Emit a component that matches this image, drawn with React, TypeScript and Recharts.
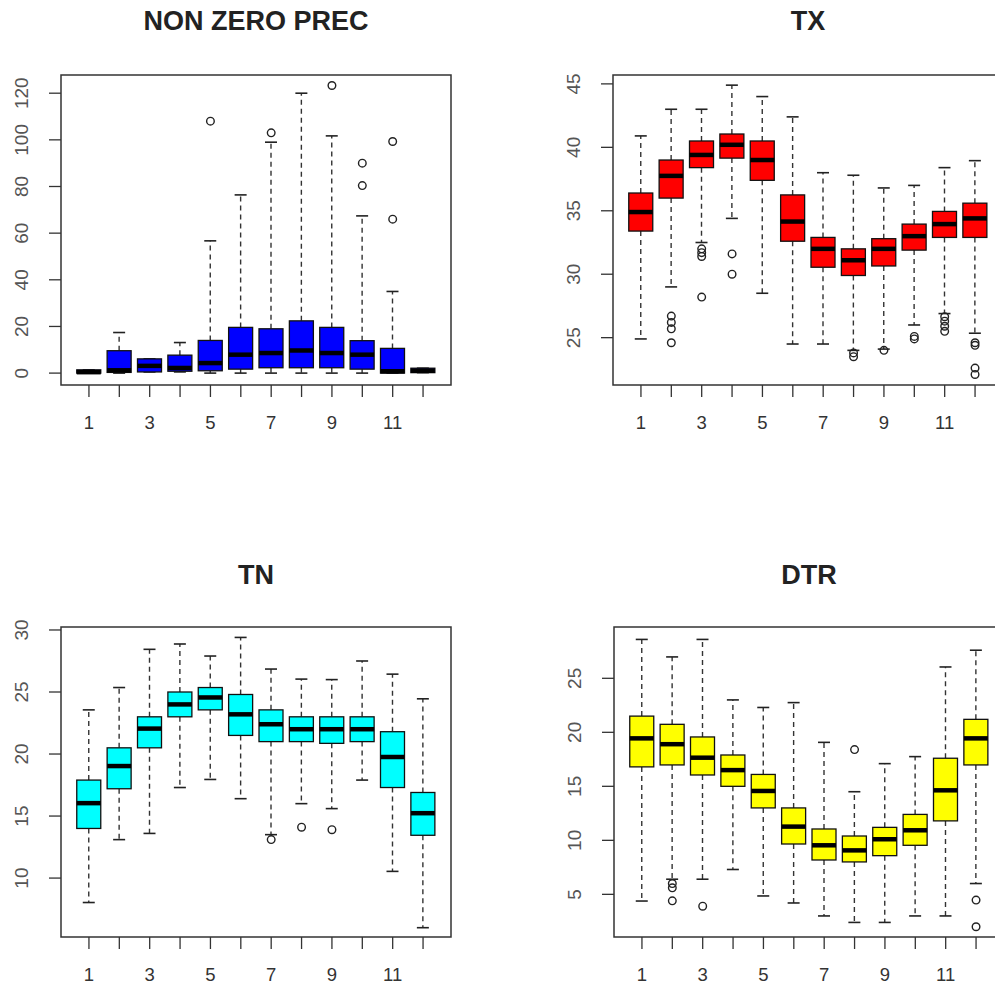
import { Bar, ComposedChart, ReferenceArea, Scatter, XAxis, YAxis } from "recharts";

const months = [1, 2, 3, 4, 5, 6, 7, 8, 9, 10, 11, 12];

// NON ZERO PREC
const precLow = [0, 0, 0.5, 0.5, 0, 0, 0, 0, 0, 0, 0, 0.2];
const precQ1 = [0, 0.3, 0.5, 0.8, 1, 1.7, 2.3, 2.3, 2.3, 1.7, 0, 0.2];
const precMedian = [0.4, 1.2, 3.1, 2.2, 4.3, 7.9, 8.6, 9.7, 8.6, 7.9, 0.8, 1.0];
const precQ3 = [1.4, 9.6, 6.1, 7.7, 14.0, 19.6, 19.0, 22.4, 19.6, 13.9, 10.6, 2.1];
const precHigh = [1.4, 17.4, 6.1, 13.1, 56.7, 76.4, 99.0, 120, 101.7, 67.4, 35, 2.1];
const precOutliers = [
  { month: 5, value: 108 },
  { month: 7, value: 103 },
  { month: 9, value: 123.3 },
  { month: 10, value: 90 },
  { month: 10, value: 80.4 },
  { month: 11, value: 99.3 },
  { month: 11, value: 66 },
];
const precTicks = [0, 20, 40, 60, 80, 100, 120];

// TX
const txLow = [24.9, 29.0, 32.5, 34.4, 28.5, 24.5, 24.5, 24.0, 24.1, 26.0, 26.9, 25.35];
const txQ1 = [33.4, 36.0, 38.4, 39.15, 37.4, 32.6, 30.55, 29.9, 30.65, 31.9, 32.9, 32.9];
const txMedian = [34.9, 37.75, 39.4, 40.2, 39.0, 34.15, 32.0, 31.1, 32.0, 33.0, 33.95, 34.4];
const txQ3 = [36.4, 39.0, 40.5, 41.05, 40.5, 36.25, 32.9, 32.0, 32.8, 33.95, 34.95, 35.6];
const txHigh = [40.9, 43.0, 43.0, 44.9, 44.0, 42.4, 38.0, 37.8, 36.8, 37.0, 38.4, 38.95];
const txOutliers = [
  { month: 2, value: 26.7 },
  { month: 2, value: 26.2 },
  { month: 2, value: 25.7 },
  { month: 2, value: 24.6 },
  { month: 3, value: 32.0 },
  { month: 3, value: 31.7 },
  { month: 3, value: 31.4 },
  { month: 3, value: 28.2 },
  { month: 4, value: 31.6 },
  { month: 4, value: 30.0 },
  { month: 8, value: 23.8 },
  { month: 8, value: 23.5 },
  { month: 9, value: 24.0 },
  { month: 10, value: 25.1 },
  { month: 10, value: 24.9 },
  { month: 11, value: 26.65 },
  { month: 11, value: 26.3 },
  { month: 11, value: 25.9 },
  { month: 11, value: 25.5 },
  { month: 12, value: 24.6 },
  { month: 12, value: 24.4 },
  { month: 12, value: 22.6 },
  { month: 12, value: 22.1 },
];
const txTicks = [25, 30, 35, 40, 45];

// TN
const tnLow = [8.03, 13.1, 13.6, 17.3, 17.95, 16.4, 13.5, 16.0, 15.6, 17.9, 10.54, 6.0];
const tnQ1 = [14.0, 17.2, 20.5, 23.0, 23.56, 21.5, 21.0, 21.0, 20.86, 21.0, 17.3, 13.45];
const tnMedian = [16.04, 19.03, 22.05, 24.0, 24.56, 23.2, 22.4, 22.0, 22.0, 22.0, 19.76, 15.23];
const tnQ3 = [17.9, 20.5, 23.0, 25.0, 25.36, 24.8, 23.56, 23.0, 23.0, 23.0, 21.8, 16.9];
const tnHigh = [23.56, 25.36, 28.44, 28.87, 27.9, 29.4, 26.85, 26.04, 26.0, 27.5, 26.44, 24.45];
const tnOutliers = [
  { month: 7, value: 13.1 },
  { month: 8, value: 14.1 },
  { month: 9, value: 13.9 },
];
const tnTicks = [10, 15, 20, 25, 30];

// DTR
const dtrLow = [4.38, 6.4, 6.4, 7.3, 4.85, 4.2, 3.0, 2.4, 2.4, 3.0, 3.0, 6.0];
const dtrQ1 = [16.8, 16.98, 16.05, 15.0, 13.0, 9.66, 8.18, 8.0, 8.58, 9.54, 11.8, 16.98];
const dtrMedian = [19.44, 18.9, 17.65, 16.5, 14.57, 11.27, 9.54, 9.07, 10.1, 10.93, 14.63, 19.44];
const dtrQ3 = [21.5, 20.74, 19.57, 17.9, 16.1, 13.0, 11.05, 10.4, 11.2, 12.4, 17.6, 21.2];
const dtrHigh = [28.6, 26.98, 28.6, 23.0, 22.3, 22.75, 19.07, 14.5, 17.1, 17.75, 26.05, 27.6];
const dtrOutliers = [
  { month: 2, value: 6.0 },
  { month: 2, value: 5.6 },
  { month: 2, value: 4.4 },
  { month: 3, value: 3.9 },
  { month: 8, value: 18.4 },
  { month: 12, value: 4.47 },
  { month: 12, value: 2.0 },
];
const dtrTicks = [5, 10, 15, 20, 25];

type Outlier = { month: number; value: number };

const FONT = '"Liberation Sans", Arial, sans-serif';
const X_DOMAIN: [number, number] = [0.08, 12.92];

function buildRows(low: number[], q1: number[], med: number[], q3: number[], high: number[]) {
  return months.map((m, i) => ({
    month: m,
    range: [low[i], high[i]],
    low: low[i],
    q1: q1[i],
    med: med[i],
    q3: q3[i],
    high: high[i],
  }));
}

// box + whiskers, positions taken from the bar's [low, high] pixel span
function BoxShape(props: any) {
  const { x, y, width, height, payload, fill } = props;
  if (x == null || y == null) return null;
  const top = Math.min(y, y + height);
  const bottom = Math.max(y, y + height);
  const { low, high } = payload;
  const px = (v: number) => bottom - ((v - low) / (high - low)) * (bottom - top);
  const cx = x + width / 2;
  const cap = width / 4;
  const yQ1 = px(payload.q1);
  const yQ3 = px(payload.q3);
  const yMed = px(payload.med);
  return (
    <g>
      <line x1={cx} x2={cx} y1={yQ3} y2={top} stroke="#333" strokeWidth={1.4} strokeDasharray="5 4" />
      <line x1={cx} x2={cx} y1={yQ1} y2={bottom} stroke="#333" strokeWidth={1.4} strokeDasharray="5 4" />
      <line x1={cx - cap} x2={cx + cap} y1={top} y2={top} stroke="#222" strokeWidth={1.6} />
      <line x1={cx - cap} x2={cx + cap} y1={bottom} y2={bottom} stroke="#222" strokeWidth={1.6} />
      <rect x={x} y={yQ3} width={width} height={Math.max(yQ1 - yQ3, 0.5)} fill={fill} stroke="#111" strokeWidth={1.3} />
      <line x1={x} x2={x + width} y1={yMed} y2={yMed} stroke="#000" strokeWidth={4.5} />
    </g>
  );
}

function OutlierDot(props: any) {
  const { cx, cy } = props;
  if (cx == null || cy == null) return null;
  return <circle cx={cx} cy={cy} r={3.8} fill="none" stroke="#222" strokeWidth={1.4} />;
}

function YTick(props: any) {
  const { x, y, payload } = props;
  const tx = x - 19;
  return (
    <text x={tx} y={y} transform={`rotate(-90 ${tx} ${y})`} textAnchor="middle" fontSize={19} fontFamily={FONT} fill="#555">
      {payload.value}
    </text>
  );
}

function XTick(props: any) {
  const { x, y, payload } = props;
  if (payload.value % 2 === 0) return null;
  return (
    <text x={x} y={y + 30} textAnchor="middle" fontSize={18.5} fontFamily={FONT} fill="#333">
      {payload.value}
    </text>
  );
}

type PanelProps = {
  title: string;
  color: string;
  rows: ReturnType<typeof buildRows>;
  outliers: Outlier[];
  domain: [number, number];
  ticks: number[];
  left: number;
  top: number;
  titleTop: number;
};

function Panel({ title, color, rows, outliers, domain, ticks, left, top, titleTop }: PanelProps) {
  return (
    <div style={{ position: "absolute", left, top, width: 480, height: 434 }}>
      <div
        style={{
          position: "absolute",
          left: 61,
          width: 390,
          top: titleTop,
          textAlign: "center",
          fontFamily: FONT,
          fontWeight: "bold",
          fontSize: 27,
          lineHeight: "27px",
          color: "#222",
        }}
      >
        {title}
      </div>
      <ComposedChart width={480} height={434} data={rows} margin={{ top: 75, right: 29, bottom: 0, left: 13 }}>
        <XAxis
          type="number"
          dataKey="month"
          domain={X_DOMAIN}
          ticks={months}
          interval={0}
          allowDataOverflow
          axisLine={false}
          tickSize={12}
          tickLine={{ stroke: "#333", strokeWidth: 1.3 }}
          height={49}
          tick={<XTick />}
        />
        <YAxis
          type="number"
          domain={domain}
          ticks={ticks}
          interval={0}
          allowDataOverflow
          axisLine={false}
          tickSize={12}
          tickLine={{ stroke: "#333", strokeWidth: 1.3 }}
          width={48}
          tick={<YTick />}
        />
        <Bar dataKey="range" barSize={24} fill={color} isAnimationActive={false} shape={<BoxShape />} />
        <Scatter data={outliers} dataKey="value" isAnimationActive={false} shape={<OutlierDot />} />
        <ReferenceArea
          x1={X_DOMAIN[0]}
          x2={X_DOMAIN[1]}
          y1={domain[0]}
          y2={domain[1]}
          fill="none"
          stroke="#333"
          strokeWidth={1.5}
          ifOverflow="visible"
        />
      </ComposedChart>
    </div>
  );
}

export default function App() {
  return (
    <div
      style={{
        position: "absolute",
        left: 0,
        top: 0,
        width: 995,
        height: 986,
        overflow: "hidden",
        background: "#fff",
      }}
    >
      <Panel
        title="NON ZERO PREC"
        color="#0000FF"
        rows={buildRows(precLow, precQ1, precMedian, precQ3, precHigh)}
        outliers={precOutliers}
        domain={[-5.1, 127.8]}
        ticks={precTicks}
        left={0}
        top={0}
        titleTop={8}
      />
      <Panel
        title="TX"
        color="#FF0000"
        rows={buildRows(txLow, txQ1, txMedian, txQ3, txHigh)}
        outliers={txOutliers}
        domain={[21.27, 45.7]}
        ticks={txTicks}
        left={552}
        top={0}
        titleTop={8}
      />
      <Panel
        title="TN"
        color="#00FFFF"
        rows={buildRows(tnLow, tnQ1, tnMedian, tnQ3, tnHigh)}
        outliers={tnOutliers}
        domain={[5.25, 30.24]}
        ticks={tnTicks}
        left={0}
        top={552}
        titleTop={10}
      />
      <Panel
        title="DTR"
        color="#FFFF00"
        rows={buildRows(dtrLow, dtrQ1, dtrMedian, dtrQ3, dtrHigh)}
        outliers={dtrOutliers}
        domain={[1.05, 29.75]}
        ticks={dtrTicks}
        left={553}
        top={552}
        titleTop={10}
      />
    </div>
  );
}
